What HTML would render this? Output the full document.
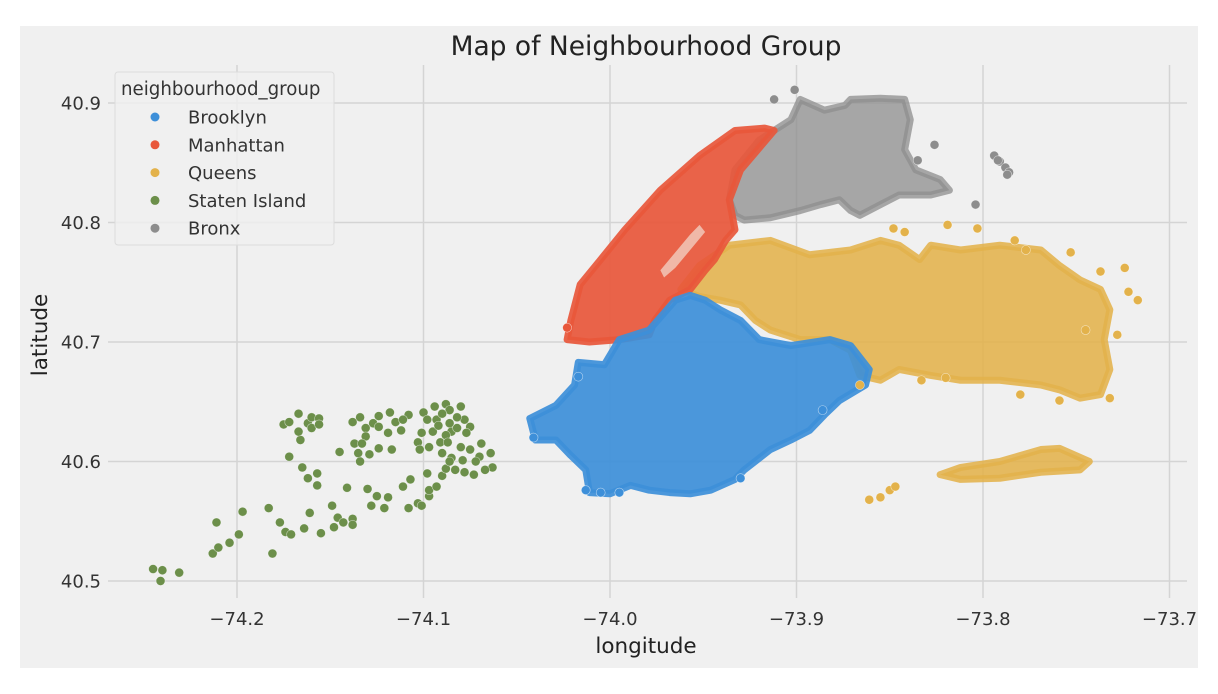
<!DOCTYPE html>
<html><head><meta charset="utf-8">
<style>
html,body{margin:0;padding:0;background:#fff;}
svg{display:block;font-family:"DejaVu Sans","Liberation Sans",sans-serif;}
</style></head>
<body>
<svg id="chart" width="1218" height="694" viewBox="0 0 1218 694">
  <rect x="20" y="26" width="1178" height="642" fill="#f0f0f0"/>
  <g id="grid"></g>
  <g id="marks"></g>
  <g id="ticks"></g>
  <text x="646" y="55" font-size="26.5" text-anchor="middle" fill="#222">Map of Neighbourhood Group</text>
  <text x="646" y="653" font-size="21.5" text-anchor="middle" fill="#222">longitude</text>
  <text x="47" y="335" font-size="21.5" text-anchor="middle" fill="#222" transform="rotate(-90 47 335)">latitude</text>
  <g id="legend">
    <rect x="115" y="72" width="219" height="173" rx="3" fill="#f0f0f0" fill-opacity="0.8" stroke="#dcdcdc"/>
    <text x="121" y="95" font-size="18.2" fill="#333">neighbourhood_group</text>
  </g>
</svg>
<script>
const categories = ["Brooklyn","Manhattan","Queens","Staten Island","Bronx"];
const colors = ["#3d8fd9","#e8573b","#e3b24b","#6c8f4a","#8d8d8d"];
const xTicks = [-74.2,-74.1,-74.0,-73.9,-73.8,-73.7];
const xTickLabels = ["\u221274.2","\u221274.1","\u221274.0","\u221273.9","\u221273.8","\u221273.7"];
const yTicks = [40.5,40.6,40.7,40.8,40.9];
const yTickLabels = ["40.5","40.6","40.7","40.8","40.9"];

// dense regions of listings (lon, lat outlines)
const brooklynArea = [[-74.043,40.636],[-74.029,40.647],[-74.019,40.664],[-74.017,40.683],[-74.003,40.681],[-73.995,40.702],[-73.979,40.710],[-73.965,40.735],[-73.957,40.739],[-73.949,40.735],[-73.941,40.727],[-73.930,40.718],[-73.920,40.702],[-73.903,40.697],[-73.882,40.702],[-73.871,40.697],[-73.861,40.677],[-73.863,40.664],[-73.877,40.651],[-73.885,40.639],[-73.893,40.626],[-73.903,40.618],[-73.914,40.610],[-73.928,40.593],[-73.933,40.585],[-73.946,40.576],[-73.957,40.573],[-73.968,40.574],[-73.979,40.576],[-73.989,40.580],[-74.000,40.573],[-74.011,40.574],[-74.013,40.593],[-74.021,40.605],[-74.029,40.618],[-74.040,40.618]];
const manhattanArea = [[-74.023,40.702],[-74.021,40.718],[-74.016,40.748],[-74.005,40.769],[-73.992,40.794],[-73.973,40.827],[-73.952,40.856],[-73.933,40.877],[-73.917,40.879],[-73.912,40.877],[-73.930,40.844],[-73.936,40.819],[-73.933,40.794],[-73.938,40.785],[-73.944,40.769],[-73.949,40.760],[-73.957,40.744],[-73.968,40.735],[-73.976,40.718],[-73.979,40.706],[-73.995,40.702],[-74.011,40.700]];
const queensArea = [[-73.962,40.744],[-73.952,40.764],[-73.936,40.781],[-73.914,40.785],[-73.893,40.773],[-73.871,40.777],[-73.855,40.785],[-73.845,40.781],[-73.834,40.769],[-73.828,40.781],[-73.812,40.777],[-73.791,40.781],[-73.769,40.777],[-73.759,40.764],[-73.748,40.752],[-73.737,40.744],[-73.732,40.727],[-73.735,40.702],[-73.732,40.677],[-73.737,40.656],[-73.748,40.653],[-73.759,40.660],[-73.769,40.664],[-73.791,40.668],[-73.812,40.668],[-73.828,40.672],[-73.845,40.677],[-73.855,40.668],[-73.866,40.672],[-73.871,40.693],[-73.882,40.702],[-73.898,40.702],[-73.914,40.710],[-73.922,40.718],[-73.930,40.731],[-73.941,40.735],[-73.952,40.738]];
const rockawayArea = [[-73.823,40.589],[-73.812,40.595],[-73.791,40.600],[-73.769,40.610],[-73.759,40.611],[-73.743,40.600],[-73.748,40.593],[-73.769,40.591],[-73.791,40.586],[-73.812,40.585]];
const bronxArea = [[-73.936,40.819],[-73.933,40.844],[-73.920,40.869],[-73.903,40.886],[-73.898,40.903],[-73.885,40.894],[-73.874,40.898],[-73.871,40.903],[-73.855,40.904],[-73.842,40.903],[-73.839,40.886],[-73.842,40.861],[-73.836,40.844],[-73.823,40.836],[-73.818,40.827],[-73.828,40.823],[-73.845,40.823],[-73.855,40.815],[-73.866,40.806],[-73.871,40.810],[-73.877,40.819],[-73.887,40.815],[-73.898,40.810],[-73.914,40.804],[-73.928,40.802],[-73.933,40.806]];
const parkGap = [[-73.973,40.760],[-73.957,40.790],[-73.952,40.798],[-73.949,40.792],[-73.965,40.762],[-73.971,40.754]];

// individual sparse listings
const statenLon = [-74.245,-74.240,-74.241,-74.231,-74.213,-74.210,-74.211,-74.204,-74.199,-74.197,-74.183,-74.181,-74.177,-74.174,-74.171,-74.164,-74.161,-74.155,-74.149,-74.148,-74.146,-74.143,-74.138,-74.138,-74.141,-74.130,-74.125,-74.128,-74.121,-74.119,-74.111,-74.107,-74.108,-74.103,-74.101,-74.097,-74.097,-74.093,-74.090,-74.098,-74.172,-74.165,-74.162,-74.157,-74.157,-74.145,-74.175,-74.172,-74.167,-74.166,-74.167,-74.162,-74.160,-74.156,-74.160,-74.156,-74.138,-74.134,-74.131,-74.131,-74.137,-74.133,-74.135,-74.134,-74.129,-74.127,-74.124,-74.124,-74.118,-74.115,-74.119,-74.112,-74.108,-74.111,-74.124,-74.117,-74.100,-74.101,-74.103,-74.102,-74.095,-74.094,-74.088,-74.086,-74.080,-74.078,-74.075,-74.077,-74.085,-74.088,-74.091,-74.097,-74.087,-74.090,-74.085,-74.079,-74.075,-74.069,-74.064,-74.063,-74.067,-74.073,-74.078,-74.083,-74.088,-74.070,-74.093,-74.098,-74.082,-74.086,-74.090,-74.082,-74.072,-74.080,-74.086,-74.092];
const statenLat = [40.510,40.509,40.500,40.507,40.523,40.528,40.549,40.532,40.539,40.558,40.561,40.523,40.549,40.541,40.539,40.544,40.557,40.540,40.563,40.545,40.553,40.549,40.552,40.547,40.578,40.577,40.571,40.563,40.561,40.570,40.579,40.585,40.561,40.565,40.563,40.571,40.576,40.579,40.588,40.590,40.604,40.595,40.586,40.580,40.590,40.608,40.631,40.633,40.640,40.618,40.625,40.632,40.637,40.636,40.628,40.631,40.633,40.637,40.628,40.621,40.615,40.615,40.607,40.600,40.606,40.632,40.638,40.629,40.641,40.633,40.624,40.626,40.639,40.635,40.611,40.610,40.641,40.624,40.616,40.610,40.625,40.646,40.648,40.643,40.646,40.635,40.629,40.624,40.625,40.622,40.616,40.612,40.616,40.607,40.603,40.601,40.610,40.615,40.607,40.595,40.593,40.589,40.591,40.593,40.594,40.604,40.635,40.635,40.637,40.632,40.640,40.628,40.600,40.612,40.600,40.630];
const queensLon = [-73.848,-73.842,-73.819,-73.803,-73.783,-73.777,-73.753,-73.737,-73.724,-73.717,-73.722,-73.728,-73.833,-73.820,-73.780,-73.759,-73.732,-73.861,-73.855,-73.850,-73.847,-73.866,-73.745];
const queensLat = [40.795,40.792,40.798,40.795,40.785,40.777,40.775,40.759,40.762,40.735,40.742,40.706,40.668,40.670,40.656,40.651,40.653,40.568,40.570,40.576,40.579,40.664,40.710];
const bronxLon = [-73.794,-73.791,-73.788,-73.786,-73.792,-73.787,-73.804,-73.826,-73.835,-73.901,-73.912];
const bronxLat = [40.856,40.851,40.846,40.842,40.852,40.840,40.815,40.865,40.852,40.911,40.903];
const brooklynLon = [-74.013,-74.005,-73.995,-74.017,-73.930,-73.886,-74.041];
const brooklynLat = [40.576,40.574,40.574,40.671,40.586,40.643,40.620];
const manhattanLon = [-74.023];
const manhattanLat = [40.712];

const X0=108, X1=1187, Y0=65, Y1=598;
function xScale(lon){ return 610 + (lon + 74.0) * 1865; }
function yScale(lat){ return 342 - (lat - 40.7) * 1195; }
const NS="http://www.w3.org/2000/svg";
const grid=document.getElementById('grid'), marks=document.getElementById('marks'), ticks=document.getElementById('ticks'), legend=document.getElementById('legend');

xTicks.forEach((v,i)=>{
  const x=xScale(v);
  const l=document.createElementNS(NS,'line');
  l.setAttribute('x1',x);l.setAttribute('x2',x);l.setAttribute('y1',Y0);l.setAttribute('y2',Y1);
  l.setAttribute('stroke','#d4d4d4');l.setAttribute('stroke-width','1.5');
  
  
  grid.appendChild(l);
  const t=document.createElementNS(NS,'text');
  t.setAttribute('x',x);t.setAttribute('y',625);t.setAttribute('font-size','18');t.setAttribute('text-anchor','middle');t.setAttribute('fill','#333');
  t.textContent=xTickLabels[i];
  
  
  ticks.appendChild(t);
});
yTicks.forEach((v,i)=>{
  const y=yScale(v);
  const l=document.createElementNS(NS,'line');
  l.setAttribute('x1',X0);l.setAttribute('x2',X1);l.setAttribute('y1',y);l.setAttribute('y2',y);
  l.setAttribute('stroke','#d4d4d4');l.setAttribute('stroke-width','1.5');
  
  
  grid.appendChild(l);
  const t=document.createElementNS(NS,'text');
  t.setAttribute('x',101);t.setAttribute('y',y+6.5);t.setAttribute('font-size','18');t.setAttribute('text-anchor','end');t.setAttribute('fill','#333');
  t.textContent=yTickLabels[i];
  
  
  ticks.appendChild(t);
});

function area(pts,color,name,opacity){
  const p=document.createElementNS(NS,'polygon');
  p.setAttribute('points',pts.map(d=>xScale(d[0])+','+yScale(d[1])).join(' '));
  p.setAttribute('fill',color);p.setAttribute('fill-opacity',opacity);
  p.setAttribute('stroke',color);p.setAttribute('stroke-width','7');p.setAttribute('stroke-linejoin','round');p.setAttribute('stroke-opacity',opacity);
  
  
  marks.appendChild(p);
}
function dots(lons,lats,color,name){
  lons.forEach((lon,i)=>{
    const c=document.createElementNS(NS,'circle');
    c.setAttribute('cx',xScale(lon));c.setAttribute('cy',yScale(lats[i]));c.setAttribute('r','4.5');
    c.setAttribute('fill',color);c.setAttribute('stroke','#ffffff');c.setAttribute('stroke-width','0.6');c.setAttribute('stroke-opacity','0.6');
    
    
    marks.appendChild(c);
  });
}
area(bronxArea,colors[4],'bronx-area','0.75');
area(queensArea,colors[2],'queens-area','0.88');
area(rockawayArea,colors[2],'queens-rockaway-area','0.88');
area(manhattanArea,colors[1],'manhattan-area','0.92');
area(brooklynArea,colors[0],'brooklyn-area','0.92');
const gap=document.createElementNS(NS,'polygon');
gap.setAttribute('points',parkGap.map(d=>xScale(d[0])+','+yScale(d[1])).join(' '));
gap.setAttribute('fill','#f0b8a8');


marks.appendChild(gap);
dots(statenLon,statenLat,colors[3],'staten-island-point');
dots(queensLon,queensLat,colors[2],'queens-point');
dots(bronxLon,bronxLat,colors[4],'bronx-point');
dots(brooklynLon,brooklynLat,colors[0],'brooklyn-point');
dots(manhattanLon,manhattanLat,colors[1],'manhattan-point');

categories.forEach((c,i)=>{
  const y=117+i*27.8;
  const m=document.createElementNS(NS,'circle');
  m.setAttribute('cx',155);m.setAttribute('cy',y);m.setAttribute('r','4.5');m.setAttribute('fill',colors[i]);
  
  
  legend.appendChild(m);
  const t=document.createElementNS(NS,'text');
  t.setAttribute('x',188);t.setAttribute('y',y+6.5);t.setAttribute('font-size','18');t.setAttribute('fill','#333');
  t.textContent=c;
  
  
  legend.appendChild(t);
});
</script>
</body></html>
